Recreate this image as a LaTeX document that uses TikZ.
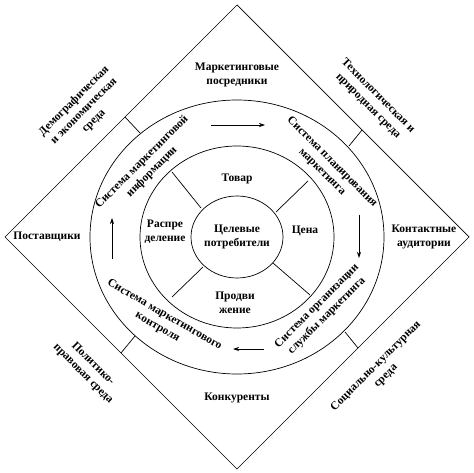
\documentclass[tikz,border=0pt]{standalone}
\usepackage{fontspec}
\setmainfont{Liberation Serif}
\usetikzlibrary{arrows.meta}

\begin{document}
\begin{tikzpicture}[
            x=1pt, y=-1pt,
            line width=0.7pt,
            lbl/.style={font=\fontsize{11.5}{14}\selectfont\bfseries, align=center, inner sep=0pt},
            flow/.style={-{Stealth[length=6pt, width=4pt]}},
            declare function={
                Rx=147; Ry=137;
                Mx=97; My=91;
                Ix=46; Iy=41;
            }
        ]

            \useasboundingbox (0, 0) rectangle (474, 473);
            \coordinate (c) at (237, 237);

            \draw (237, 5) -- (469, 237) -- (237, 469) -- (5, 237) -- cycle;
            \draw (c) ellipse [x radius=Rx, y radius=Ry];
            \draw (c) ellipse [x radius=Mx, y radius=My];
            \draw (c) ellipse [x radius=Ix, y radius=Iy];

            \draw (172, 172) -- (201, 208);
            \draw (308, 181) -- (276, 212);
            \draw (203, 267) -- (172, 297);
            \draw (273, 263) -- (310, 295);

            \draw (125, 117) -- (140, 133);
            \draw (362, 130) -- (349, 146);
            \draw (121, 353) -- (135, 336);
            \draw (358, 348) -- (345, 332);

            \coordinate (t1) at (211, 125);
            \coordinate (t2) at (265, 125);
            \coordinate (r1) at (359, 215);
            \coordinate (r2) at (359, 258);
            \coordinate (b1) at (264, 349);
            \coordinate (b2) at (233, 349);
            \coordinate (l1) at (112, 259);
            \coordinate (l2) at (112, 218);
            \draw[flow] (t1) -- (t2);
            \draw[flow] (r1) -- (r2);
            \draw[flow] (b1) -- (b2);
            \draw[flow] (l1) -- (l2);

            \node[lbl] (posr) at (237, 75) {Маркетинговые\\посредники};
            \node[lbl] (post) at (47, 237) {Поставщики};
            \node[lbl] (kont) at (424, 237) {Контактные\\аудитории};
            \node[lbl] (konk) at (237, 398) {Конкуренты};

            \node[lbl] (tovar) at (237, 179) {Товар};
            \node[lbl] (cena) at (305, 231) {Цена};
            \node[lbl] (rasp) at (165, 232) {Распре\\деление};
            \node[lbl] (prod) at (235, 303) {Продви\\жение};
            \node[lbl] (celi) at (237, 237) {Целевые\\потребители};

            \node[lbl, rotate=45] (sinf) at (147, 167) {Система маркетинговой\\информации};
            \node[lbl, rotate=-45] (splan) at (327, 167) {Система планирования\\маркетинга};
            \node[lbl, rotate=45] (sorg) at (322, 311) {Система организации\\службы маркетинга};
            \node[lbl, rotate=-30] (skon) at (161, 321) {Система маркетингового\\контроля};

            \node[lbl, rotate=45] (demo) at (84, 111) {Демографическая\\и экономическая\\среда};
            \node[lbl, rotate=-45] (tech) at (373, 101) {Технологическая и\\природная среда};
            \node[lbl, rotate=-45] (polit) at (88, 369) {Политико-\\правовая среда};
            \node[lbl, rotate=45] (soc) at (381, 371) {Социально-культурная\\среда};
        \end{tikzpicture}
\end{document}
